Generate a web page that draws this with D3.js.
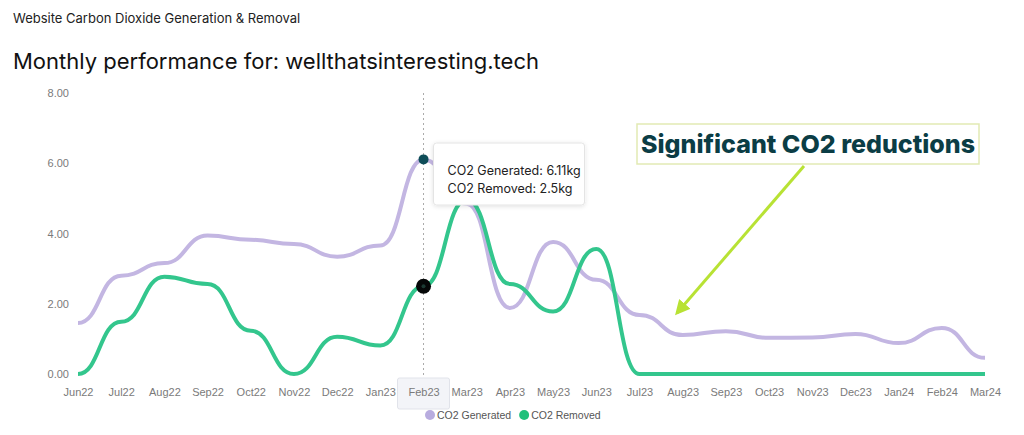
<!DOCTYPE html>
<html>
<head>
<meta charset="utf-8">
<script src="https://cdn.jsdelivr.net/npm/d3@7"></script>
<style>
  body { margin: 0; background: #fff; font-family: "Inter", "Liberation Sans", sans-serif; }
  .tick text { font-family: "Liberation Sans", Arial, sans-serif; font-size: 11px; fill: #7a7a7a; }
  .axis .domain { display: none; }
</style>
</head>
<body>
<svg id="chart" width="1024" height="435"></svg>
<script>
const months = ["Jun22","Jul22","Aug22","Sep22","Oct22","Nov22","Dec22","Jan23","Feb23","Mar23","Apr23","May23",
  "Jun23","Jul23","Aug23","Sep23","Oct23","Nov23","Dec23","Jan24","Feb24","Mar24"];
const generated = [1.45, 2.8, 3.16, 3.94, 3.82, 3.7, 3.34, 3.66, 6.11, 4.85, 1.88, 3.76,
  2.68, 1.68, 1.11, 1.22, 1.03, 1.04, 1.14, 0.88, 1.31, 0.46];
const removed = [0, 1.49, 2.77, 2.56, 1.23, 0, 1.06, 0.81, 2.5, 4.96, 2.56, 1.78,
  3.56, 0, 0, 0, 0, 0, 0, 0, 0, 0];
const yTicks = [0, 2, 4, 6, 8];
const series = [
  {name: "CO2 Generated", values: generated, color: "#c3b6e2", legend: "#b8acdf"},
  {name: "CO2 Removed", values: removed, color: "#33c68d", legend: "#1fc07a"}
];
const focusIndex = 8;
const annotation = "Significant CO2 reductions";

const svg = d3.select("#chart");

svg.append("text")
  .attr("x", 13).attr("y", 23)
  .attr("font-size", 13).attr("fill", "#222")
  .text("Website Carbon Dioxide Generation & Removal");

svg.append("text")
  .attr("x", 13).attr("y", 69)
  .attr("font-size", 22).attr("fill", "#111")
  .text("Monthly performance for: wellthatsinteresting.tech");

const x = d3.scalePoint().domain(months).range([78, 985]);
const y = d3.scaleLinear().domain([0, 8]).range([374, 93]);

// highlight box behind the hovered month label
svg.append("rect")
  .attr("x", x(months[focusIndex]) - 26).attr("y", 378)
  .attr("width", 52).attr("height", 31)
  .attr("rx", 2)
  .attr("fill", "#f3f4f8").attr("stroke", "#e1e3ea");

svg.append("g")
  .attr("class", "axis")
  .attr("transform", "translate(0,378)")
  .call(d3.axisBottom(x).tickSize(0).tickPadding(10));

svg.append("g")
  .attr("class", "axis")
  .attr("transform", "translate(69,0)")
  .call(d3.axisLeft(y).tickValues(yTicks).tickFormat(d3.format(".2f")).tickSize(0).tickPadding(0));

// hover guide line
svg.append("line")
  .attr("x1", x(months[focusIndex])).attr("x2", x(months[focusIndex]))
  .attr("y1", 93).attr("y2", 378)
  .attr("stroke", "#aaa").attr("stroke-width", 1).attr("stroke-dasharray", "2,3");

const line = d3.line()
  .x((d, i) => x(months[i]))
  .y(d => y(d))
  .curve(d3.curveBumpX);

series.forEach(s => {
  svg.append("path")
    .datum(s.values)
    .attr("fill", "none")
    .attr("stroke", s.color)
    .attr("stroke-width", 4)
    .attr("stroke-linejoin", "round")
    .attr("d", line);
});

// hover markers
svg.append("circle")
  .attr("cx", x(months[focusIndex])).attr("cy", y(generated[focusIndex]))
  .attr("r", 5).attr("fill", "#0f4d58");
svg.append("circle")
  .attr("cx", x(months[focusIndex])).attr("cy", y(removed[focusIndex]))
  .attr("r", 7.5).attr("fill", "#050808");
svg.append("circle")
  .attr("cx", x(months[focusIndex])).attr("cy", y(removed[focusIndex]))
  .attr("r", 2).attr("fill", "#1b3a33");

// tooltip
const tip = svg.append("g").attr("transform", `translate(${x(months[focusIndex]) + 10},143)`);
const defs = svg.append("defs");
const f = defs.append("filter").attr("id", "shadow").attr("x", "-20%").attr("y", "-20%").attr("width", "140%").attr("height", "150%");
f.append("feDropShadow").attr("dx", 0).attr("dy", 1).attr("stdDeviation", 2).attr("flood-color", "#000").attr("flood-opacity", 0.12);
tip.append("rect")
  .attr("width", 151).attr("height", 62).attr("rx", 3)
  .attr("fill", "#fff").attr("stroke", "#e4e4e4")
  .attr("filter", "url(#shadow)");
tip.append("text").attr("x", 14).attr("y", 32).attr("font-size", 12.5).attr("fill", "#222")
  .text(`CO2 Generated: ${generated[focusIndex]}kg`);
tip.append("text").attr("x", 14).attr("y", 50).attr("font-size", 12.5).attr("fill", "#222")
  .text(`CO2 Removed: ${removed[focusIndex]}kg`);

// legend
const legend = svg.append("g").attr("transform", "translate(0,415)");
let lx = 430;
series.forEach(s => {
  legend.append("circle").attr("cx", lx).attr("cy", 0).attr("r", 5).attr("fill", s.legend);
  const t = legend.append("text").attr("x", lx + 7).attr("y", 4)
    .attr("font-family", "Liberation Sans, Arial, sans-serif")
    .attr("font-size", 10.5).attr("fill", "#555").text(s.name);
  lx += t.node().getComputedTextLength() + 20;
});

// annotation
svg.append("rect")
  .attr("x", 637).attr("y", 124).attr("width", 342).attr("height", 40)
  .attr("fill", "#fff").attr("stroke", "#e2eab4").attr("stroke-width", 1.5);
svg.append("text")
  .attr("x", 808).attr("y", 153)
  .attr("text-anchor", "middle")
  .attr("font-family", "Inter, Lato, sans-serif")
  .attr("font-weight", 800).attr("font-size", 25)
  .attr("fill", "#0b3d45")
  .text(annotation);

defs.append("marker")
  .attr("id", "arrow").attr("viewBox", "0 0 10 10")
  .attr("refX", 8).attr("refY", 5)
  .attr("markerWidth", 5).attr("markerHeight", 5)
  .attr("markerUnits", "strokeWidth")
  .attr("orient", "auto")
  .append("path").attr("d", "M0,0L10,5L0,10Z").attr("fill", "#b8e234");
svg.append("line")
  .attr("x1", 804).attr("y1", 166).attr("x2", 677).attr("y2", 313)
  .attr("stroke", "#b8e234").attr("stroke-width", 3)
  .attr("marker-end", "url(#arrow)");
</script>
</body>
</html>
